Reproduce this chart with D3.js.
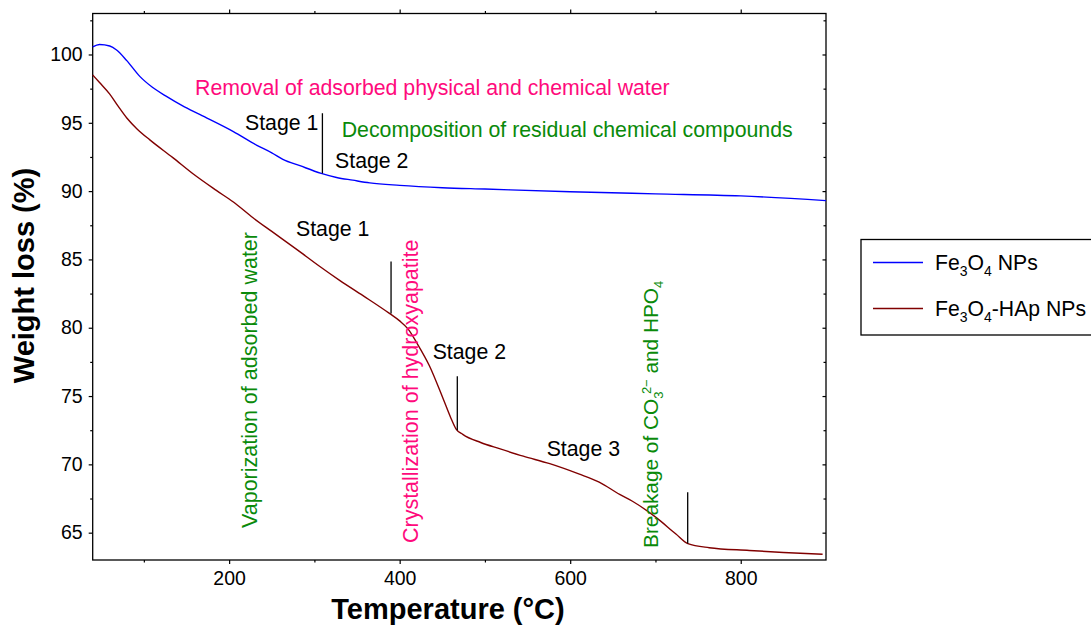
<!DOCTYPE html>
<html>
<head>
<meta charset="utf-8">
<script src="https://cdn.jsdelivr.net/npm/d3@7"></script>
<style>
  html, body { margin: 0; padding: 0; background: #fff; }
  svg text { font-family: "Liberation Sans", Arial, sans-serif; }
</style>
</head>
<body>
<svg id="chart" width="1091" height="626"></svg>
<script>
// ---- Data ----
const seriesNames = ["Fe3O4 NPs", "Fe3O4-HAp NPs"];
const fe3o4Temp = [40, 48, 60, 68, 80, 95.5, 110, 127, 145, 166, 205, 232, 250, 263, 283, 308, 326, 345, 365, 400, 450, 500, 600, 700, 800, 900];
const fe3o4Weight = [100.55, 100.73, 100.62, 100.33, 99.55, 98.38, 97.6, 96.91, 96.25, 95.59, 94.35, 93.37, 92.8, 92.33, 91.86, 91.3, 91.0, 90.8, 90.6, 90.42, 90.25, 90.15, 89.95, 89.8, 89.65, 89.3];
const hapTemp = [40, 48, 60, 70, 80, 92, 107, 134, 158, 185, 205, 228, 250, 280, 306, 330, 357, 388, 400, 410, 420, 435, 451, 460, 466, 474, 495, 517, 545, 576, 610, 634, 658, 673, 701, 724, 738, 763, 810, 850, 896];
const hapWeight = [98.5, 97.95, 97.1, 96.2, 95.35, 94.55, 93.75, 92.45, 91.25, 90.05, 89.2, 88.05, 87.05, 85.7, 84.5, 83.45, 82.35, 81.05, 80.5, 79.9, 78.9, 77.2, 74.8, 73.4, 72.6, 72.2, 71.6, 71.15, 70.6, 70.05, 69.3, 68.7, 67.8, 67.3, 66.1, 64.9, 64.2, 63.9, 63.7, 63.55, 63.42];

const xMajorTicks = [200, 400, 600, 800];
const xMinorTicks = [100, 300, 500, 700];
const yMajorTicks = [65, 70, 75, 80, 85, 90, 95, 100];
const yMinorTicks = [67.5, 72.5, 77.5, 82.5, 87.5, 92.5, 97.5, 102.5];

// stage marker lines: temperature, weight from, weight to
const markerTemp = [309.4, 389.9, 467.6, 737.8];
const markerFrom = [95.7, 84.85, 76.45, 67.95];
const markerTo = [91.3, 81.05, 72.5, 64.2];

// horizontal annotations
const noteText = ["Removal of adsorbed physical and chemical water", "Stage 1", "Decomposition of residual chemical compounds", "Stage 2", "Stage 1", "Stage 2", "Stage 3"];
const noteTemp = [160, 218.6, 332, 324.2, 278.4, 438.7, 572.4];
const noteWeight = [97.0, 94.47, 93.99, 91.67, 86.71, 77.69, 70.61];
const noteKind = ["pink", "black", "green", "black", "black", "black", "black"];

// vertical annotations
const vNoteText = ["Vaporization of adsorbed water", "Crystallization of hydroxyapatite", "BREAKAGE"];
const vNoteTemp = [232.7, 421.5, 703];
const vNoteWeight = [65.34, 64.24, 63.88];
const vNoteKind = ["green", "pink", "green"];

// ---- Layout ----
const colors = { blue: "#0000ff", brown: "#800000", pink: "#ff0a7c", green: "#0a8a0a", black: "#000" };
const svg = d3.select("#chart");
const mLeft = 92.7, mRight = 826, mTop = 13.5, mBottom = 560;
const x = d3.scaleLinear().domain([40, 900]).range([mLeft, mRight]);
const y = d3.scaleLinear().domain([63, 103]).range([mBottom, mTop]);

// frame
svg.append("rect").attr("x", mLeft).attr("y", mTop).attr("width", mRight - mLeft).attr("height", mBottom - mTop)
  .attr("fill", "none").attr("stroke", "#000").attr("stroke-width", 1.3);

function tickGroup(axisGen, tx, ty) {
  const g = svg.append("g").attr("transform", `translate(${tx},${ty})`).call(axisGen);
  g.select(".domain").remove();
  g.selectAll("line").attr("stroke", "#000").attr("stroke-width", 1.2);
  return g;
}
// bottom
const gb = tickGroup(d3.axisBottom(x).tickValues(xMajorTicks).tickSize(4).tickPadding(7).tickFormat(d3.format("d")), 0, mBottom);
gb.selectAll("text").attr("font-size", 19.5).attr("fill", "#000").attr("font-family", "Liberation Sans, Arial, sans-serif");
tickGroup(d3.axisBottom(x).tickValues(xMinorTicks).tickSize(2.5).tickFormat(""), 0, mBottom);
// top
tickGroup(d3.axisTop(x).tickValues(xMajorTicks).tickSize(4).tickFormat(""), 0, mTop);
tickGroup(d3.axisTop(x).tickValues(xMinorTicks).tickSize(2.5).tickFormat(""), 0, mTop);
// left
const gl = tickGroup(d3.axisLeft(y).tickValues(yMajorTicks).tickSize(4).tickPadding(6).tickFormat(d3.format("d")), mLeft, 0);
gl.selectAll("text").attr("font-size", 19.5).attr("fill", "#000").attr("font-family", "Liberation Sans, Arial, sans-serif");
tickGroup(d3.axisLeft(y).tickValues(yMinorTicks).tickSize(2.5).tickFormat(""), mLeft, 0);
// right (inward)
tickGroup(d3.axisLeft(y).tickValues(yMajorTicks).tickSize(3.5).tickFormat(""), mRight, 0);
tickGroup(d3.axisLeft(y).tickValues(yMinorTicks).tickSize(2.5).tickFormat(""), mRight, 0);

// axis titles
svg.append("text").attr("x", 448).attr("y", 619).attr("text-anchor", "middle")
  .attr("font-size", 29).attr("font-weight", "bold").text("Temperature (°C)");
svg.append("text").attr("transform", "translate(34,275.5) rotate(-90)").attr("text-anchor", "middle")
  .attr("font-size", 29).attr("font-weight", "bold").text("Weight loss (%)");

// curves
const line = d3.line().x(d => x(d[0])).y(d => y(d[1])).curve(d3.curveMonotoneX);
const plot = svg.append("g");
plot.append("path").datum(fe3o4Temp.map((t, i) => [t, fe3o4Weight[i]]))
  .attr("d", line).attr("fill", "none").attr("stroke", colors.blue).attr("stroke-width", 1.4);
plot.append("path").datum(hapTemp.map((t, i) => [t, hapWeight[i]]))
  .attr("d", line).attr("fill", "none").attr("stroke", colors.brown).attr("stroke-width", 1.4);

// stage markers
plot.selectAll("line.marker").data(markerTemp).enter().append("line").attr("class", "marker")
  .attr("x1", d => x(d)).attr("x2", d => x(d))
  .attr("y1", (d, i) => y(markerFrom[i])).attr("y2", (d, i) => y(markerTo[i]))
  .attr("stroke", "#000").attr("stroke-width", 1.3);

// horizontal notes
svg.selectAll("text.note").data(noteText).enter().append("text").attr("class", "note")
  .attr("x", (d, i) => x(noteTemp[i])).attr("y", (d, i) => y(noteWeight[i]))
  .attr("font-size", 21.3).attr("fill", (d, i) => colors[noteKind[i]]).text(d => d);

// vertical notes
vNoteText.forEach((t, i) => {
  const tx = svg.append("text")
    .attr("transform", `translate(${x(vNoteTemp[i])},${y(vNoteWeight[i])}) rotate(-90)`)
    .attr("font-size", 21.5).attr("fill", colors[vNoteKind[i]]);
  if (t === "BREAKAGE") {
    tx.attr("font-size", 20.8);
    tx.append("tspan").text("Breakage of CO");
    tx.append("tspan").attr("font-size", 13).attr("dy", 5).text("3");
    tx.append("tspan").attr("font-size", 13).attr("dy", -12).attr("dx", -2.5).text("2−");
    tx.append("tspan").attr("dy", 7).text(" and HPO");
    tx.append("tspan").attr("font-size", 13).attr("dy", 5).text("4");
  } else {
    tx.text(t);
  }
});

// legend
const leg = svg.append("g");
leg.append("rect").attr("x", 861).attr("y", 239.5).attr("width", 240).attr("height", 95.5)
  .attr("fill", "#fff").attr("stroke", "#000").attr("stroke-width", 1.3);
const legColors = [colors.blue, colors.brown];
const legY = [262.5, 308.5];
seriesNames.forEach((n, i) => {
  leg.append("line").attr("x1", 873).attr("x2", 923).attr("y1", legY[i]).attr("y2", legY[i])
    .attr("stroke", legColors[i]).attr("stroke-width", 1.4);
  const t = leg.append("text").attr("x", 935).attr("y", legY[i] + 7.5).attr("font-size", 21.2);
  t.append("tspan").text("Fe");
  t.append("tspan").attr("font-size", 14).attr("dy", 5.5).text("3");
  t.append("tspan").attr("dy", -5.5).text("O");
  t.append("tspan").attr("font-size", 14).attr("dy", 5.5).text("4");
  t.append("tspan").attr("dy", -5.5).text(i === 0 ? " NPs" : "-HAp NPs");
});
</script>
</body>
</html>
